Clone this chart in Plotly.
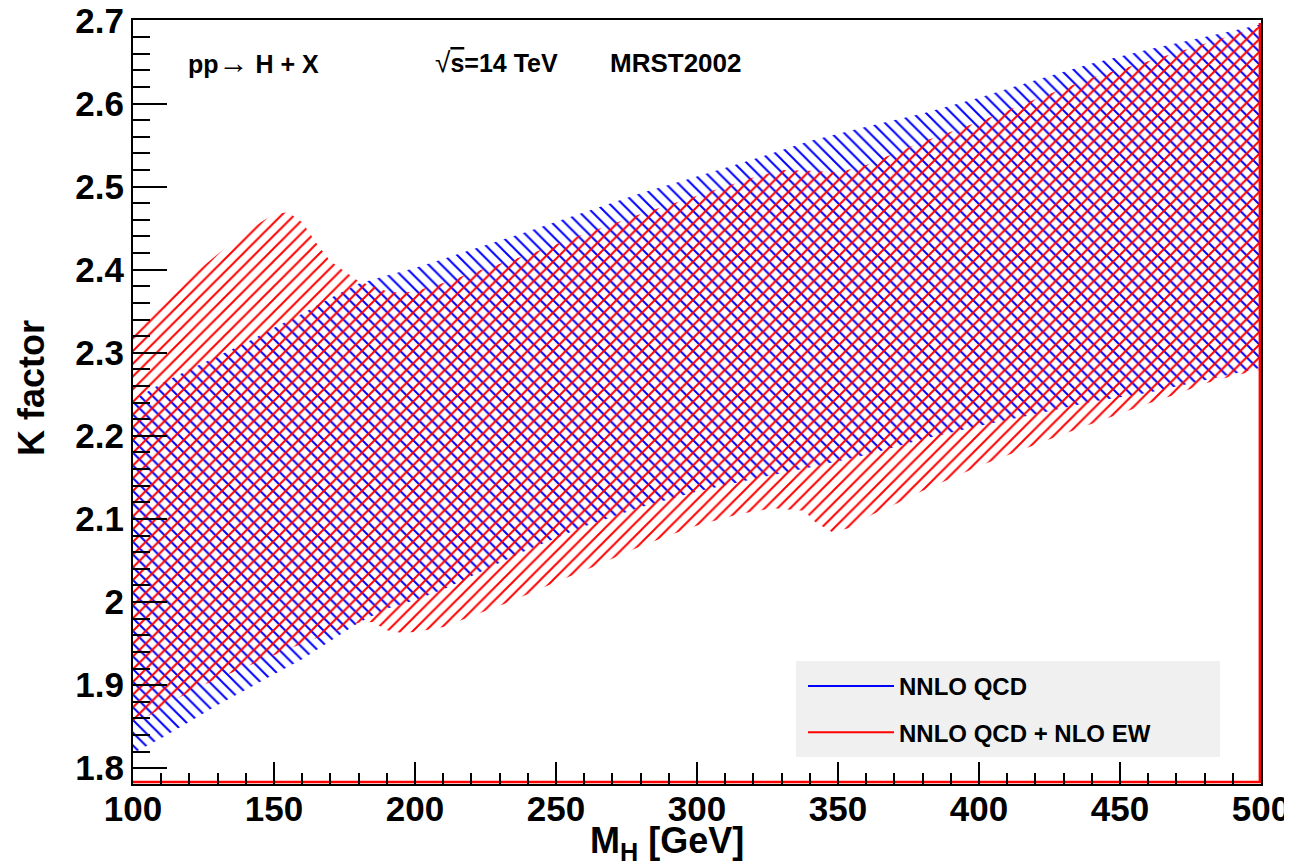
import plotly.graph_objects as go

# ---------------- data ----------------
# NNLO QCD band
qcd_mh = [100, 110, 120, 130, 140, 150, 160, 170, 180, 190, 200, 210, 220, 240, 260, 280,
          300, 320, 340, 360, 380, 400, 420, 440, 460, 480, 500]
qcd_upper = [2.243, 2.263, 2.280, 2.296, 2.312, 2.330, 2.347, 2.366, 2.383, 2.393, 2.402, 2.413,
             2.424, 2.446, 2.469, 2.492, 2.512, 2.533, 2.555, 2.572, 2.588, 2.607, 2.628, 2.648,
             2.665, 2.680, 2.695]
qcd_lower = [1.818, 1.836, 1.856, 1.876, 1.895, 1.913, 1.931, 1.953, 1.975, 1.992, 2.002, 2.015,
             2.031, 2.063, 2.091, 2.114, 2.133, 2.148, 2.162, 2.177, 2.196, 2.212, 2.226, 2.241,
             2.252, 2.267, 2.282]

# NNLO QCD + NLO EW band
ew_up_mh = [100, 110, 120, 130, 140, 150, 155, 160, 165, 170, 180, 190, 195, 200, 210, 220, 240,
            260, 280, 300, 320, 330, 340, 350, 360, 370, 380, 400, 420, 440, 460, 480, 500]
ew_upper = [2.327, 2.363, 2.391, 2.418, 2.446, 2.467, 2.469, 2.457, 2.432, 2.410, 2.386, 2.374,
            2.372, 2.374, 2.384, 2.396, 2.418, 2.443, 2.467, 2.489, 2.511, 2.520, 2.519, 2.517,
            2.526, 2.540, 2.554, 2.578, 2.605, 2.631, 2.651, 2.672, 2.693]
ew_lo_mh = [100, 110, 120, 130, 140, 150, 160, 170, 180, 185, 190, 195, 200, 210, 220, 235, 250,
            265, 280, 290, 300, 315, 327, 338, 342, 348, 354, 362, 371, 380, 393, 401, 429, 440,
            450, 460, 470, 480, 490, 500]
ew_lower = [1.852, 1.872, 1.892, 1.908, 1.922, 1.936, 1.950, 1.963, 1.975, 1.976, 1.966, 1.963,
            1.964, 1.970, 1.983, 2.002, 2.024, 2.045, 2.067, 2.080, 2.092, 2.106, 2.113, 2.110,
            2.096, 2.084, 2.089, 2.105, 2.119, 2.134, 2.153, 2.165, 2.201, 2.215, 2.227, 2.239,
            2.250, 2.263, 2.272, 2.280]

# outline of the EW graph along the frame
ew_outline_x = [100, 499.6, 499.6]
ew_outline_y = [1.7835, 1.7835, 2.697]

series_names = ["NNLO QCD", "NNLO QCD + NLO EW"]
x_range = [100, 500]
y_range = [1.781, 2.7005]

BLUE = "#0000ff"
RED = "#ff0000"
FONT = "Liberation Sans, Arial, sans-serif"

# page offset (default body margin) and plot-area geometry in screen pixels
OFF = 8
FIG_W, FIG_H = 1292 - OFF, 867 - OFF
L, R, T, B = 133, 1261, 20, 784
W, H = R - L, B - T


def px(xp):
    return (xp - L) / W


def py(yp):
    return (B - yp) / H


fig = go.Figure()

# blue band (\\ hatch)
fig.add_trace(go.Scatter(
    x=qcd_mh + qcd_mh[::-1], y=qcd_upper + qcd_lower[::-1],
    mode="lines", fill="toself", line=dict(width=0, color=BLUE),
    fillcolor="rgba(0,0,0,0)",
    fillpattern=dict(shape="\\", fgcolor=BLUE, fgopacity=1, bgcolor="rgba(0,0,0,0)",
                     size=9, solidity=0.22, fillmode="overlay"),
    showlegend=False, hoverinfo="skip"))

# red band (/ hatch)
fig.add_trace(go.Scatter(
    x=ew_up_mh + ew_lo_mh[::-1], y=ew_upper + ew_lower[::-1],
    mode="lines", fill="toself", line=dict(width=0, color=RED),
    fillcolor="rgba(0,0,0,0)",
    fillpattern=dict(shape="/", fgcolor=RED, fgopacity=1, bgcolor="rgba(0,0,0,0)",
                     size=9, solidity=0.22, fillmode="overlay"),
    showlegend=False, hoverinfo="skip"))

fig.add_trace(go.Scatter(x=ew_outline_x, y=ew_outline_y, mode="lines",
                         line=dict(color=RED, width=2.5), showlegend=False, hoverinfo="skip"))

# legend entries
fig.add_trace(go.Scatter(x=[None], y=[None], mode="lines", name=series_names[0],
                         line=dict(color=BLUE, width=2), legendgroup="a"))
fig.add_trace(go.Scatter(x=[None], y=[None], mode="lines", name=series_names[1],
                         line=dict(color=RED, width=2), legendgroup="b"))

# legend background box
fig.add_shape(type="rect", xref="paper", yref="paper",
              x0=px(796), x1=px(1220), y0=py(757), y1=py(661),
              fillcolor="#f0f0f0", line=dict(width=0), layer="below")

ann_font = dict(family=FONT, size=25, color="black", weight="bold")
fig.add_annotation(xref="paper", yref="paper", x=px(186), y=py(63),
                   xanchor="left", yanchor="middle", showarrow=False,
                   text="pp<span style='font-weight:normal;font-size:30px'>→</span> H + X", font=ann_font)
fig.add_annotation(xref="paper", yref="paper", x=px(433), y=py(63),
                   xanchor="left", yanchor="middle", showarrow=False,
                   text="<span style='font-weight:normal;font-size:28px'>√</span><span style='text-decoration:overline'>s</span>=14 TeV",
                   font=ann_font)
fig.add_annotation(xref="paper", yref="paper", x=px(608), y=py(63),
                   xanchor="left", yanchor="middle", showarrow=False,
                   text="MRST2002", font=dict(family=FONT, size=26, color="black", weight="bold"))

tick_font = dict(family=FONT, size=35, color="black", weight="bold")
title_font = dict(family=FONT, size=36, color="black", weight="bold")

# axis titles
fig.add_annotation(xref="paper", yref="paper", x=px(588), y=py(818),
                   xanchor="left", yanchor="top", showarrow=False,
                   text="M<sub>H</sub> [GeV]", font=title_font)
fig.add_annotation(xref="paper", yref="paper", x=px(32), y=py(388),
                   xanchor="center", yanchor="middle", showarrow=False, textangle=-90,
                   text="K factor", font=title_font)

fig.update_xaxes(range=x_range, dtick=50, tick0=100, ticks="inside", ticklen=22, tickwidth=2,
                 tickcolor="black", minor=dict(ticks="inside", ticklen=11, dtick=10,
                                               tickwidth=2, tickcolor="black"),
                 showline=True, linewidth=2, linecolor="black", mirror=True,
                 showgrid=False, zeroline=False, tickfont=tick_font, automargin=False,
                 ticklabelstandoff=-7, ticklabeloverflow="allow")
fig.update_yaxes(range=y_range, dtick=0.1, tick0=1.8, ticks="inside", ticklen=34, tickwidth=2,
                 tickcolor="black", minor=dict(ticks="inside", ticklen=17, dtick=0.02,
                                               tickwidth=2, tickcolor="black"),
                 showline=True, linewidth=2, linecolor="black", mirror=True,
                 showgrid=False, zeroline=False, tickfont=tick_font, automargin=False,
                 ticklabeloverflow="allow")

fig.update_layout(
    width=FIG_W, height=FIG_H,
    margin=dict(l=L - OFF, r=FIG_W - (R - OFF), t=T - OFF, b=FIG_H - (B - OFF), autoexpand=False),
    paper_bgcolor="white", plot_bgcolor="white",
    font=dict(family=FONT, color="black"),
    legend=dict(x=px(803), y=py(664), xanchor="left", yanchor="top",
                bgcolor="rgba(0,0,0,0)", font=dict(family=FONT, size=24, color="black", weight="bold"),
                itemwidth=86, tracegroupgap=12),
)

fig.write_html("out.html")
